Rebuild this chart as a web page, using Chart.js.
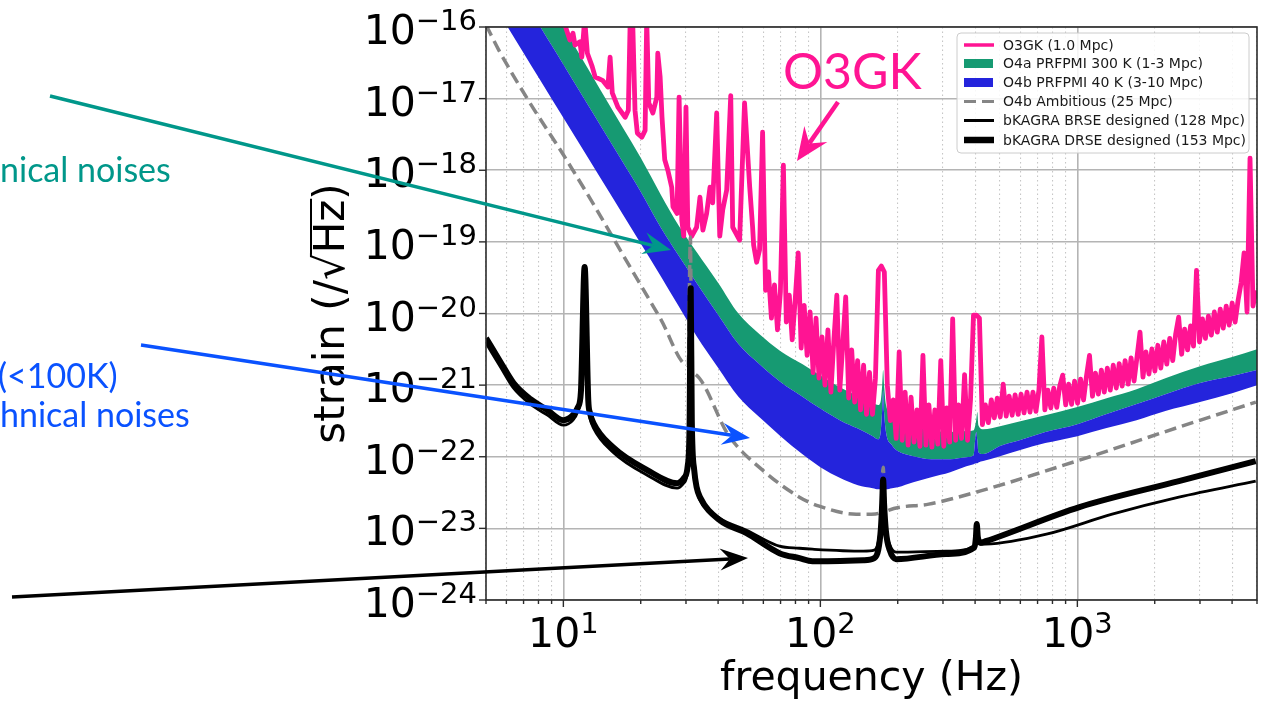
<!DOCTYPE html>
<html>
<head>
<meta charset="utf-8">
<script src="https://cdn.jsdelivr.net/npm/chart.js@4.4.0/dist/chart.umd.min.js"></script>
<style>
  html, body { margin: 0; padding: 0; background: #fff; }
  #wrap { width: 1261px; height: 703px; overflow: hidden; }
</style>
</head>
<body>
<div id="wrap"><canvas id="chart" width="1261" height="703"></canvas></div>
<script>
// axis ticks
const xTicks = [5, 6, 7, 8, 9, 10, 20, 30, 40, 50, 60, 70, 80, 90, 100, 200, 300, 400, 500, 600, 700, 800, 900, 1000, 2000, 3000, 4000, 5000];
const xDecades = [10, 100, 1000];
const yTicks = [1e-24, 1e-23, 1e-22, 1e-21, 1e-20, 1e-19, 1e-18, 1e-17, 1e-16];

// legend entries
const legendLabels = ['O3GK (1.0 Mpc)', 'O4a PRFPMI 300 K (1-3 Mpc)', 'O4b PRFPMI 40 K (3-10 Mpc)', 'O4b Ambitious (25 Mpc)', 'bKAGRA BRSE designed (128 Mpc)', 'bKAGRA DRSE designed (153 Mpc)'];

// O4a / O4b bands (same frequency grid)
const bandFreq = [5, 6, 7, 8, 9, 10, 12, 14, 17, 20,
  24, 28, 33, 40, 48, 58, 70, 85, 100, 120,
  140, 160, 168, 172, 174, 175.5, 177, 180, 190, 200,
  230, 270, 320, 370, 395, 404, 408, 412, 430, 500,
  600, 750, 1000, 1300, 1700, 2200, 3000, 4000, 5000];
const o4aUpper = [7.2e-15, 2.2e-15, 1.1e-15, 3.9e-16, 1.9e-16, 1.0e-16, 3.3e-17, 1.29e-17, 3.97e-18, 1.49e-18,
  4.49e-19, 1.72e-19, 7.21e-20, 2.69e-20, 9.97e-21, 5.12e-21, 2.98e-21, 1.97e-21, 1.36e-21, 9.17e-22,
  7.02e-22, 5.61e-22, 5.26e-22, 6.2e-22, 1.0e-21, 1.62e-21, 1.0e-21, 5.3e-22, 3.81e-22, 3.24e-22,
  2.67e-22, 2.35e-22, 2.21e-22, 2.28e-22, 2.35e-22, 3.24e-22, 4.2e-22, 2.76e-22, 2.43e-22, 2.67e-22,
  3.14e-22, 3.81e-22, 4.93e-22, 6.58e-22, 8.79e-22, 1.25e-21, 1.84e-21, 2.46e-21, 3.18e-21];
// lower edge of O4a, which is also where the O4b band starts
const o4aLower = [1.77e-15, 6.04e-16, 2.44e-16, 1.11e-16, 5.55e-17, 2.99e-17, 1.02e-17, 4.12e-18, 1.31e-18, 5.02e-19,
  1.56e-19, 6.54e-20, 2.66e-20, 9.62e-21, 3.74e-21, 1.95e-21, 1.11e-21, 6.93e-22, 4.7e-22, 3.19e-22,
  2.47e-22, 1.94e-22, 1.76e-22, 2.35e-22, 4.48e-22, 8.5e-22, 4.2e-22, 2.21e-22, 1.45e-22, 1.2e-22,
  1.02e-22, 9.25e-23, 9.25e-23, 9.87e-23, 1.05e-22, 2.21e-22, 1.71e-22, 1.16e-22, 1.09e-22, 1.41e-22,
  1.71e-22, 2.21e-22, 2.85e-22, 3.94e-22, 5.43e-22, 7.48e-22, 1.07e-21, 1.34e-21, 1.62e-21];
const o4bLower = [3.1e-16, 1.07e-16, 4.35e-17, 1.99e-17, 1.0e-17, 5.41e-18, 1.87e-18, 7.59e-19, 2.45e-19, 9.46e-20,
  3.27e-20, 1.29e-20, 4.83e-21, 1.75e-21, 6.86e-22, 3.55e-22, 1.94e-22, 1.09e-22, 7.16e-23, 5.02e-23,
  4.01e-23, 3.64e-23, 3.52e-23, 3.52e-23, 3.52e-23, 3.52e-23, 3.52e-23, 3.52e-23, 3.64e-23, 3.76e-23,
  4.42e-23, 5.19e-23, 6.09e-23, 7.39e-23, 7.88e-23, 8.1e-23, 8.1e-23, 8.3e-23, 8.69e-23, 1.02e-22,
  1.24e-22, 1.55e-22, 1.94e-22, 2.51e-22, 3.24e-22, 4.34e-22, 5.79e-22, 7.73e-22, 1.0e-21];

// O3GK measured spectrum
const pinkFreq = [5, 7, 9, 10, 10.2, 10.6, 10.9, 11.1, 11.6, 11.8,
  12.1, 12.4, 12.95, 13.3, 14.2, 14.9, 15.2, 15.5, 16.3, 17.4,
  17.9, 18.2, 18.6, 19.0, 19.4, 20.2, 20.8, 21.1, 21.5, 22.3,
  23.1, 23.3, 23.8, 24.2, 24.8, 25.5, 26.4, 26.7, 27.7, 28.2,
  28.9, 29.4, 30.0, 30.5, 31.6, 33.0, 34.0, 34.9, 36.1, 37.2,
  38.1, 39.5, 40.6, 41.7, 43.2, 44.8, 45.6, 48.5, 50.7, 53.1,
  54.5,
  55.0, 56.5, 58.0, 59.6, 61.2, 62.8, 64.5, 66.3, 68.1, 69.9,
  71.8, 73.7, 75.7, 77.7, 79.8, 82.0, 84.2, 86.5, 88.8, 91.2,
  93.7, 96.2, 98.8, 101.5, 104.2, 107, 109.9, 112.9, 115.9, 119,
  122.2, 125.5, 128.9, 132.4, 136, 139.6, 143.4, 147.3, 151.2, 155.3,
  159.5, 163.8, 168.2, 172.7, 177.4, 182.2, 187.1, 192.1, 197.3, 202.6,
  208.1, 213.7, 219.5, 225.4, 231.5, 237.7, 244.1, 250.7, 257.5, 264.4,
  271.6, 278.9, 286.4, 294.1, 302.1, 310.2, 318.6, 327.2, 336, 345.1,
  354.4, 364, 373.8, 383.9, 394.3, 404.9, 415.8, 427.1, 438.6, 450.4,
  462.6, 475.1, 487.9, 501.1, 514.6, 528.5, 542.8, 557.4, 572.5, 588,
  603.9, 620.2, 636.9, 654.1, 671.8, 689.9, 708.5, 727.7, 747.3, 767.5,
  788.2, 809.5, 831.4, 853.8, 876.9, 900.6, 924.9, 949.9, 975.5, 1002,
  1029, 1057, 1085, 1115, 1145, 1176, 1207, 1240, 1273, 1308,
  1343, 1379, 1417, 1455, 1494, 1534, 1576, 1618, 1662, 1707,
  1753, 1800, 1849, 1899, 1950, 2003, 2057, 2112, 2169, 2228,
  2288, 2350, 2413, 2478, 2545, 2614, 2684, 2757, 2831, 2908,
  2986, 3067, 3150, 3235, 3322, 3412, 3504, 3598, 3695, 3795,
  3898, 4003, 4111, 4222, 4336, 4453, 4573, 4697, 4823, 4954];
const pinkStrain = [3e-15, 1.5e-15, 4e-16, 1.6e-16, 1.0e-16, 6.6e-17, 8.2e-17, 5.6e-17, 6.2e-17, 3.8e-17,
  1.3e-16, 4.3e-17, 2.8e-17, 2.0e-17, 1.8e-17, 1.45e-17, 3.8e-17, 1.2e-17, 7.6e-18, 5.5e-18,
  6.9e-18, 1.3e-16, 1.3e-16, 6.9e-18, 3.3e-18, 2.9e-18, 3.6e-18, 1.3e-16, 8.7e-18, 6.3e-18,
  1.05e-17, 4.3e-17, 2.0e-17, 5.5e-18, 1.4e-18, 1.0e-18, 5.8e-19, 3.1e-19, 2.5e-19, 1.05e-17,
  2.0e-19, 1.2e-19, 7.6e-18, 1.6e-19, 1.2e-19, 1.6e-19, 4.2e-19, 1.46e-19, 2.5e-19, 5.8e-19,
  3.5e-19, 6.3e-18, 1.2e-19, 2.8e-19, 5.3e-19, 1.1e-17, 1.6e-19, 1.06e-19, 8.7e-18, 5.8e-19,
  1.6e-19,
  9.0e-20, 5.2e-20, 7.7e-20, 3.4e-18, 2.1e-20, 3.8e-20, 8.6e-21, 2.5e-20, 5.9e-21, 2.0e-20,
  1.18e-18, 7.6e-21, 1.8e-20, 4.3e-21, 1.54e-20, 7.0e-20, 3.3e-21, 1.3e-20, 2.6e-21, 1.05e-20,
  1.5e-21, 8.6e-21, 1.25e-21, 4.7e-21, 1.0e-21, 5.9e-21, 8.0e-22, 4.3e-21, 1.8e-20, 8.5e-22,
  3.6e-21, 1.7e-20, 6.6e-22, 3.1e-21, 5.8e-22, 2.2e-21, 4.5e-22, 1.9e-21, 3.9e-22, 1.5e-21,
  3.9e-22, 1.25e-21, 4.0e-20, 4.6e-20, 3.8e-20, 1.0e-21, 3.2e-22, 6.2e-22, 1.8e-22, 2.9e-21,
  1.7e-22, 8.0e-22, 1.45e-22, 6.8e-22, 1.6e-22, 4.5e-22, 1.4e-22, 2.6e-21, 1.45e-22, 5.3e-22,
  1.36e-22, 4.5e-22, 1.5e-22, 2.2e-21, 1.4e-22, 4.8e-22, 1.6e-22, 8.4e-21, 1.7e-22, 5.3e-22,
  1.8e-22, 1.4e-21, 1.7e-22, 6.2e-22, 9.5e-21, 9.5e-21, 8.6e-21, 2.8e-22, 5.3e-22, 3.0e-22,
  6.2e-22, 3.5e-22, 6.6e-22, 3.6e-22, 1.03e-21, 3.7e-22, 7.0e-22, 3.8e-22, 7.3e-22, 3.9e-22,
  7.5e-22, 4.1e-22, 8.0e-22, 4.2e-22, 8.0e-22, 4.3e-22, 8.5e-22, 4.7e-21, 4.5e-22, 8.5e-22,
  4.8e-22, 9.1e-22, 4.9e-22, 9.7e-22, 1.38e-21, 5.3e-22, 1.03e-21, 5.4e-22, 1.14e-21, 5.6e-22,
  1.21e-21, 6.2e-22, 1.34e-21, 2.6e-21, 7.0e-22, 1.47e-21, 7.5e-22, 1.62e-21, 8.0e-22, 1.73e-21,
  8.5e-22, 1.9e-21, 9.1e-22, 2.0e-21, 9.7e-22, 2.2e-21, 1.03e-21, 2.4e-21, 1.14e-21, 2.5e-21,
  5.5e-21, 1.29e-21, 2.9e-21, 1.43e-21, 3.2e-21, 1.57e-21, 3.6e-21, 1.73e-21, 4.0e-21, 1.96e-21,
  4.5e-21, 2.2e-21, 5.2e-21, 8.9e-21, 2.7e-21, 6.05e-21, 3.1e-21, 6.7e-21, 3.5e-21, 4.0e-20,
  4.0e-21, 8.4e-21, 4.5e-21, 9.2e-21, 5.0e-21, 1.05e-20, 5.5e-21, 1.15e-20, 6.25e-21, 1.27e-20,
  6.9e-21, 1.4e-20, 7.6e-21, 1.54e-20, 2.66e-20, 7.0e-20, 1.05e-20, 1.48e-18, 1.27e-20, 2.1e-20];

// O4b ambitious (dashed)
const ambFreq = [5, 5.6, 7.3, 9.9, 13.3, 16.9, 23.8, 30.6, 31.2, 31.6, 31.9, 44.4, 59.6, 82.9, 99, 138, 158, 172, 175.5, 179, 180, 264, 417, 1019, 2483, 4950];
const ambStrain = [1.07e-16, 4.8e-17, 9.5e-18, 1.74e-18, 3.06e-19, 6.98e-20, 8.63e-21, 1.87e-21, 1.17e-19, 1.57e-21, 1.47e-21, 1.88e-22, 6.5e-23, 2.73e-23, 2.04e-23, 1.58e-23, 1.58e-23, 1.68e-23, 7.16e-23, 1.7e-23, 1.73e-23, 2.18e-23, 3.31e-23, 8.97e-23, 2.59e-22, 5.79e-22];

// bKAGRA BRSE (thin)
const brseFreq = [5, 5.7, 6.4, 7.45, 8.67, 10, 10.9, 11.4, 11.7, 12.1,
  12.5, 12.7, 13.1, 15.6, 21.2, 27.7, 29.4, 30.5, 31.0, 31.3,
  31.6, 32.3, 33, 34, 40.6, 51.6, 69.3, 82.9, 93.1, 147,
  162, 168, 172, 174, 175.5, 177, 180, 186, 197, 308,
  398, 403, 406, 410, 420, 440, 758, 1366, 2483, 4943];
const brseStrain = [3.86e-21, 1.78e-21, 9.08e-22, 5.43e-22, 3.81e-22, 2.76e-22, 3.24e-22, 4.34e-22, 7.25e-22, 4.04e-20,
  5.43e-22, 3.46e-22, 2.51e-22, 1.16e-22, 5.53e-23, 3.64e-23, 4.28e-23, 6.5e-23, 2.76e-22, 1.99e-20,
  2.76e-22, 5.67e-23, 3.41e-23, 2.48e-23, 1.39e-23, 9.44e-24, 5.64e-24, 5.28e-24, 5.12e-24, 4.81e-24,
  4.96e-24, 6.5e-24, 1.2e-23, 2.4e-23, 4.7e-23, 2.4e-23, 1.0e-23, 6.0e-24, 4.66e-24, 4.81e-24,
  5.64e-24, 7.0e-24, 1.0e-23, 7.0e-24, 6.0e-24, 6.01e-24, 8.3e-24, 1.58e-23, 2.73e-23, 4.56e-23];

// bKAGRA DRSE (thick)
const drseFreq = [5, 5.7, 6.4, 7.45, 8.67, 10, 10.9, 11.4, 11.7, 12.1,
  12.5, 12.7, 13.1, 15.6, 21.2, 27.7, 29.4, 30.5, 31.0, 31.3,
  31.6, 32.3, 33, 34, 40.6, 51.6, 69.3, 82.9, 93.1, 147,
  162, 168, 172, 174, 175.5, 177, 180, 186, 197, 308,
  398, 403, 406, 410, 420, 440, 1019, 2483, 4943];
const drseStrain = [4.53e-21, 2.09e-21, 1.07e-21, 6.37e-22, 4.48e-22, 3.24e-22, 3.81e-22, 4.93e-22, 7.98e-22, 4.45e-20,
  6.18e-22, 4.06e-22, 2.94e-22, 1.36e-22, 6.5e-23, 4.28e-23, 5.02e-23, 7.63e-23, 3.24e-22, 2.26e-20,
  3.24e-22, 6.5e-23, 3.76e-23, 2.73e-23, 1.3e-23, 8.58e-24, 4.51e-24, 3.84e-24, 3.48e-24, 3.6e-24,
  3.84e-24, 5.0e-24, 1.0e-23, 2.2e-23, 4.8e-23, 2.2e-23, 9.0e-24, 5.0e-24, 3.72e-24, 4.37e-24,
  5.46e-24, 7.5e-24, 1.15e-23, 7.5e-24, 6.3e-24, 6.62e-24, 1.98e-23, 4.56e-23, 8.69e-23];

const PINK = '#ff1493';
const GREEN = '#169a72';
const BLUE = '#2424dc';
const GRAY = '#858585';
const TEAL = '#00978a';
const NOTE_BLUE = '#0a52ff';
const FONT = '"DejaVu Sans"';

const toPoints = (xs, ys) => xs.map((x, i) => ({ x: x, y: ys[i] }));
const isDecade = v => Math.abs(Math.log10(v) - Math.round(Math.log10(v))) < 1e-6;

function powLabel(c, exp, x, y, align) {
    const sup = exp < 0 ? '\u2212' + Math.abs(exp) : String(exp);
    c.font = '41px ' + FONT;
    const wb = c.measureText('10').width;
    c.font = '29px ' + FONT;
    const ws = c.measureText(sup).width;
    const x0 = align === 'right' ? x - wb - ws : x - (wb + ws) / 2;
    c.textAlign = 'left';
    c.textBaseline = 'alphabetic';
    c.font = '41px ' + FONT;
    c.fillText('10', x0, y);
    c.font = '29px ' + FONT;
    c.fillText(sup, x0 + wb, y - 14);
}

function arrow(c, x1, y1, x2, y2, color, lw, len, half) {
    const ang = Math.atan2(y2 - y1, x2 - x1);
    const cs = Math.cos(ang), sn = Math.sin(ang);
    const notch = len * 0.65;
    c.strokeStyle = color;
    c.fillStyle = color;
    c.lineWidth = lw;
    c.setLineDash([]);
    c.beginPath();
    c.moveTo(x1, y1);
    c.lineTo(x2 - cs * notch, y2 - sn * notch);
    c.stroke();
    c.beginPath();
    c.moveTo(x2, y2);
    c.lineTo(x2 - cs * len - sn * half, y2 - sn * len + cs * half);
    c.lineTo(x2 - cs * notch, y2 - sn * notch);
    c.lineTo(x2 - cs * len + sn * half, y2 - sn * len - cs * half);
    c.closePath();
    c.fill();
}

const decorations = {
    id: 'decorations',
    afterDraw(chart) {
        const c = chart.ctx;
        const xs = chart.scales.x;
        const ys = chart.scales.y;
        const a = chart.chartArea;
        c.save();

        // frame
        c.strokeStyle = '#2b2b2b';
        c.lineWidth = 1.6;
        c.strokeRect(a.left, a.top, a.right - a.left, a.bottom - a.top);

        // tick marks
        c.lineWidth = 1.4;
        xTicks.forEach(v => {
            const px = xs.getPixelForValue(v);
            const len = isDecade(v) ? 7 : 4;
            c.beginPath(); c.moveTo(px, a.bottom); c.lineTo(px, a.bottom + len); c.stroke();
        });
        yTicks.forEach(v => {
            const py = ys.getPixelForValue(v);
            c.beginPath(); c.moveTo(a.left - 7, py); c.lineTo(a.left, py); c.stroke();
        });

        // tick labels
        c.fillStyle = '#000';
        xDecades.forEach(v => powLabel(c, Math.round(Math.log10(v)), xs.getPixelForValue(v), 647, 'center'));
        yTicks.forEach(v => powLabel(c, Math.round(Math.log10(v)), a.left - 9, ys.getPixelForValue(v) + 17, 'right'));

        // axis titles
        c.font = '41px ' + FONT;
        c.textAlign = 'center';
        c.fillText('frequency (Hz)', (a.left + a.right) / 2, 690);

        c.save();
        c.translate(344, (a.top + a.bottom) / 2);
        c.rotate(-Math.PI / 2);
        c.font = '42px ' + FONT;
        c.textAlign = 'left';
        const parts = ['strain (/', '\u221A', 'Hz', ')'];
        const widths = parts.map(p => c.measureText(p).width);
        let px = -widths.reduce((s, w) => s + w, 0) / 2;
        parts.forEach((p, i) => {
            c.fillText(p, px, 0);
            if (p === 'Hz') {
                c.lineWidth = 2;
                c.strokeStyle = '#000';
                c.beginPath(); c.moveTo(px - 1, -33); c.lineTo(px + widths[i] + 1, -33); c.stroke();
            }
            px += widths[i];
        });
        c.restore();

        // legend
        const lx = 957, ly = 33, lw = 292, lh = 120;
        c.fillStyle = 'rgba(255,255,255,0.85)';
        c.strokeStyle = '#cccccc';
        c.lineWidth = 1;
        c.beginPath();
        c.roundRect(lx, ly, lw, lh, 4);
        c.fill(); c.stroke();
        const rowY = [45, 63.5, 82.5, 101.5, 120.5, 140];
        const handles = [
            { kind: 'line', color: PINK, width: 3.5 },
            { kind: 'patch', color: GREEN },
            { kind: 'patch', color: BLUE },
            { kind: 'line', color: GRAY, width: 3, dash: [12, 6] },
            { kind: 'line', color: '#000', width: 3 },
            { kind: 'line', color: '#000', width: 6.5 }
        ];
        handles.forEach((h, i) => {
            const y = rowY[i];
            if (h.kind === 'patch') {
                c.fillStyle = h.color;
                c.fillRect(964, y - 4.5, 29, 9);
            } else {
                c.strokeStyle = h.color;
                c.lineWidth = h.width;
                c.setLineDash(h.dash || []);
                c.beginPath(); c.moveTo(964, y); c.lineTo(994, y); c.stroke();
                c.setLineDash([]);
            }
            c.fillStyle = '#1a1a1a';
            c.font = '14px ' + FONT;
            c.textAlign = 'left';
            c.textBaseline = 'middle';
            c.fillText(legendLabels[i], 1003, y + 1);
        });
        c.textBaseline = 'alphabetic';

        // slide annotations
        c.font = '34px Lato';
        c.fillStyle = TEAL;
        c.fillText('nical noises', 0, 182);
        c.fillStyle = NOTE_BLUE;
        c.fillText('(<100K)', -2, 388);
        c.fillText('hnical noises', 0, 427);
        c.font = '50px Lato';
        c.fillStyle = PINK;
        c.fillText('O3GK', 783, 89);

        arrow(c, 50, 96, 671, 250, TEAL, 3.5, 28, 11);
        arrow(c, 141, 345, 750, 438, NOTE_BLUE, 3.5, 28, 11);
        arrow(c, 12, 597, 748, 558, '#000', 3.5, 28, 11);
        arrow(c, 838, 102, 797, 161, PINK, 4.5, 33, 14);

        c.restore();
    }
};

const ctx = document.getElementById('chart').getContext('2d');

const bandStyle = { borderColor: 'rgba(0,0,0,0)', borderWidth: 1, pointRadius: 0, cubicInterpolationMode: 'monotone' };
const lineStyle = { pointRadius: 0, borderJoinStyle: 'round', backgroundColor: 'rgba(0,0,0,0)', fill: false };
const smooth = { cubicInterpolationMode: 'monotone' };

const config = {
    type: 'line',
    data: {
        datasets: [
            Object.assign({ label: 'O4a upper', data: toPoints(bandFreq, o4aUpper), fill: '+1', backgroundColor: GREEN, order: 10 }, bandStyle),
            Object.assign({ label: 'O4a lower', data: toPoints(bandFreq, o4aLower), fill: false, order: 9 }, bandStyle),
            Object.assign({ label: 'O4b upper', data: toPoints(bandFreq, o4aLower), fill: '+1', backgroundColor: BLUE, order: 8 }, bandStyle),
            Object.assign({ label: 'O4b lower', data: toPoints(bandFreq, o4bLower), fill: false, order: 7 }, bandStyle),
            Object.assign({ label: 'O3GK', data: toPoints(pinkFreq, pinkStrain), borderColor: PINK, borderWidth: 4.8, order: 4 }, lineStyle),
            Object.assign({ label: 'O4b Ambitious', data: toPoints(ambFreq, ambStrain), borderColor: GRAY, borderWidth: 3.5, borderDash: [12, 6], order: 3 }, lineStyle, smooth),
            Object.assign({ label: 'bKAGRA BRSE', data: toPoints(brseFreq, brseStrain), borderColor: '#000', borderWidth: 2.8, order: 2 }, lineStyle, smooth),
            Object.assign({ label: 'bKAGRA DRSE', data: toPoints(drseFreq, drseStrain), borderColor: '#000', borderWidth: 6, order: 1 }, lineStyle, smooth)
        ]
    },
    options: {
        responsive: false,
        animation: false,
        events: [],
        layout: { padding: { left: 486, top: 27, right: 4, bottom: 103 } },
        plugins: {
            legend: { display: false },
            tooltip: { enabled: false },
            filler: { propagate: false }
        },
        scales: {
            x: {
                type: 'logarithmic',
                min: 5,
                max: 5000,
                afterBuildTicks: scale => { scale.ticks = xTicks.map(v => ({ value: v, major: isDecade(v) })); },
                ticks: { display: false },
                grid: {
                    drawTicks: false,
                    color: c => (c.tick && isDecade(c.tick.value)) ? '#b4b4b4' : '#c6c6c6',
                    lineWidth: c => (c.tick && isDecade(c.tick.value)) ? 1.6 : 1.1
                },
                border: { display: false, dash: c => (c.tick && !isDecade(c.tick.value)) ? [1.5, 3] : [] }
            },
            y: {
                type: 'logarithmic',
                min: 1e-24,
                max: 1e-16,
                afterBuildTicks: scale => { scale.ticks = yTicks.map(v => ({ value: v, major: true })); },
                ticks: { display: false },
                grid: { drawTicks: false, color: '#b4b4b4', lineWidth: 1.6 },
                border: { display: false }
            }
        }
    },
    plugins: [decorations]
};

new Chart(ctx, config);
</script>
</body>
</html>
